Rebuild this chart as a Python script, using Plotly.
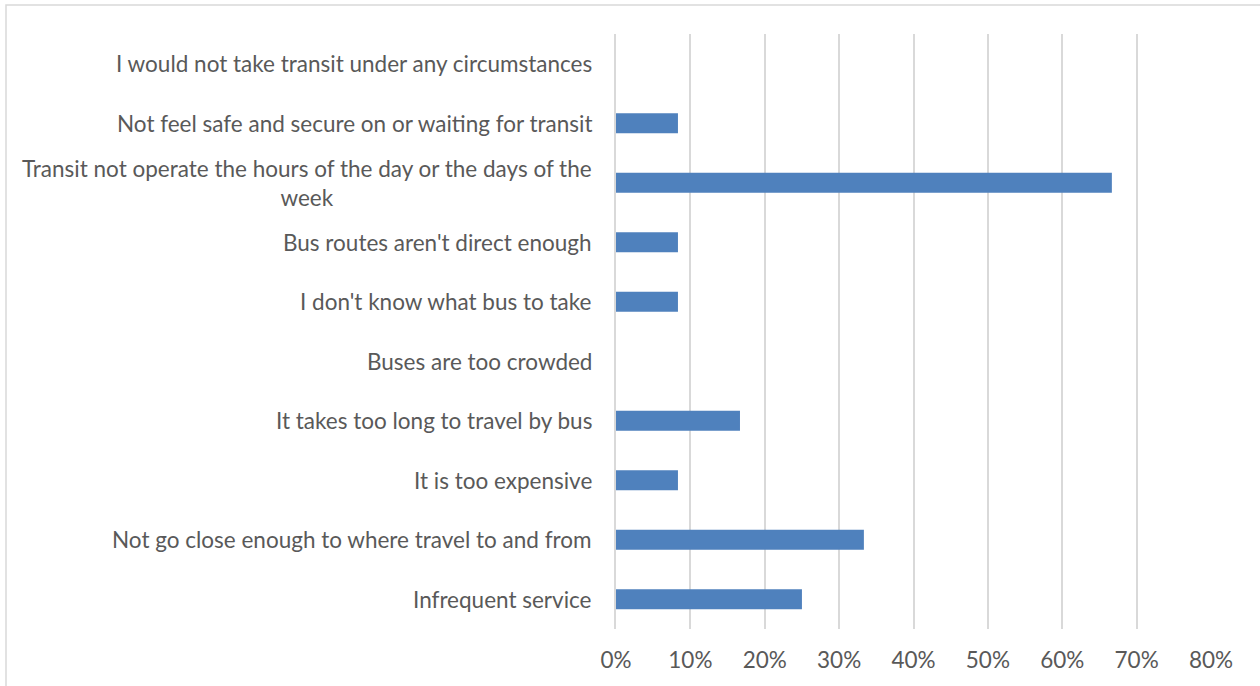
import plotly.graph_objects as go

categories = [
    "Infrequent service",
    "Not go close enough to where travel to and from",
    "It is too expensive",
    "It takes too long to travel by bus",
    "Buses are too crowded",
    "I don't know what bus to take",
    "Bus routes aren't direct enough",
    "Transit not operate the hours of the day or the days of the<br>week",
    "Not feel safe and secure on or waiting for transit",
    "I would not take transit under any circumstances",
]
values = [0.25, 0.3333, 0.0833, 0.1667, 0.0, 0.0833, 0.0833, 0.6667, 0.0833, 0.0]
x_ticks = [0, 0.1, 0.2, 0.3, 0.4, 0.5, 0.6, 0.7, 0.8]
x_tick_labels = ["0%", "10%", "20%", "30%", "40%", "50%", "60%", "70%", "80%"]

W, H = 1260, 686
L, R, T, B = 616, 49, 34, 57
FONT = "Lato"
FS = 22.5
GRAY = "#595959"
GRID = "#D9D9D9"

fig = go.Figure(go.Bar(
    x=values, y=list(range(len(categories))), orientation="h",
    marker=dict(color="#4F81BD", line=dict(width=0)),
    width=0.34,
))

annotations = []
for i, c in enumerate(categories):
    annotations.append(dict(
        x=0, xref="paper", y=i, yref="y", text=c, showarrow=False,
        xanchor="right", yanchor="middle", align="center", xshift=-22,
        font=dict(family=FONT, size=FS, color=GRAY),
    ))

fig.update_layout(
    width=W, height=H,
    margin=dict(l=L, r=R, t=T, b=B),
    paper_bgcolor="white", plot_bgcolor="white",
    showlegend=False,
    annotations=annotations,
    xaxis=dict(
        range=[0, 0.8], tickvals=x_ticks, ticktext=x_tick_labels,
        showgrid=True, gridcolor=GRID, gridwidth=1.5,
        zeroline=False, showline=False, ticks="",
        tickfont=dict(family=FONT, size=FS, color=GRAY),
        ticklabelstandoff=15,
    ),
    yaxis=dict(
        range=[-0.5, len(categories) - 0.5], showticklabels=False,
        showgrid=False, zeroline=False, ticks="",
        showline=True, linecolor=GRID, linewidth=1.5,
    ),
    shapes=[dict(
        type="rect", xref="paper", yref="paper",
        x0=(6 - L) / (W - L - R), x1=(W + 20 - L) / (W - L - R),
        y0=(H - B - (H + 20)) / (H - T - B), y1=(H - B - 5) / (H - T - B),
        line=dict(color=GRID, width=1.5), fillcolor="rgba(0,0,0,0)",
        layer="below",
    )],
)

fig.write_html(
    "out.html",
    config={"displayModeBar": False},
    post_script="document.body.style.margin='0';document.body.style.padding='0';",
)
